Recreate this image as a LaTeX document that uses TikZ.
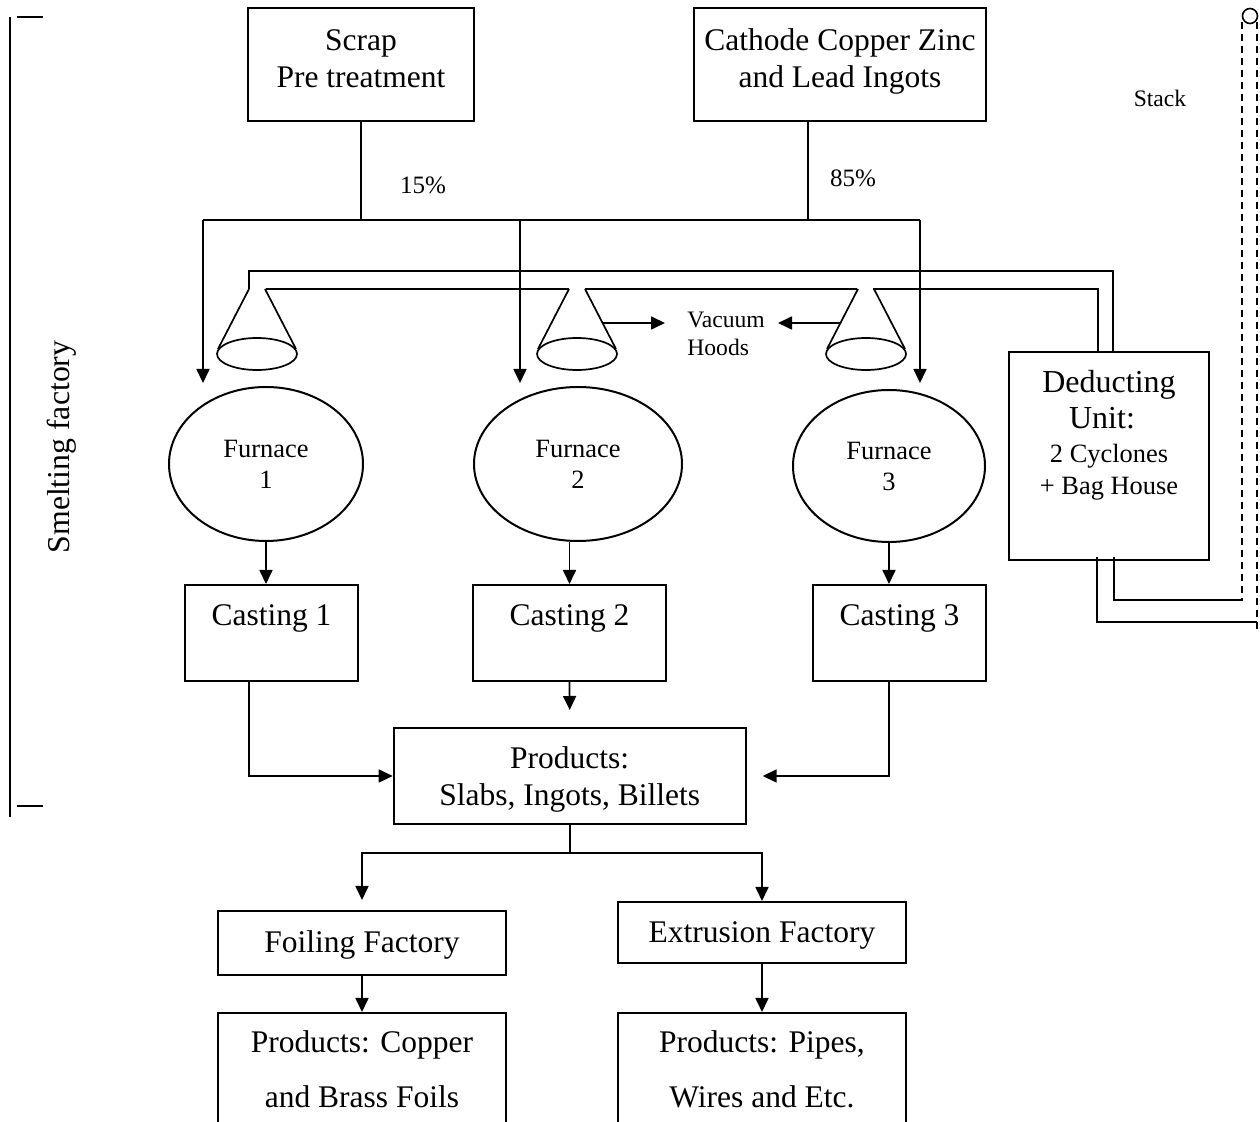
\documentclass[tikz,border=0pt]{standalone}
\usepackage{fontspec}
\setmainfont{Liberation Serif}
\usetikzlibrary{arrows.meta,shapes.geometric}

\begin{document}
\begin{tikzpicture}[x=0.5pt,y=-0.5pt,
    box/.style={draw,line width=1pt,inner sep=0pt,align=center,font=\fontsize{15.75}{18.5}\selectfont},
    furn/.style={draw,ellipse,line width=1pt,inner sep=0pt,align=center,font=\fontsize{13.2}{15.5}\selectfont},
    arr/.style={-{Triangle[length=7pt,width=6.5pt]},line width=0.85pt},
    pipe/.style={line width=0.85pt},
    stackline/.style={line width=0.6pt,dash pattern=on 3.5pt off 2.5pt}]
    \useasboundingbox (0,0) rectangle (1260,1122);

    % raw material
    \node[box,anchor=north,minimum width=113pt,text height=40pt,text depth=16.5pt] (scrap) at (361,7) {Scrap\\Pre treatment};
    \node[box,anchor=north,minimum width=146pt,text height=40pt,text depth=16.5pt] (cathode) at (840,7) {Cathode Copper Zinc\\and Lead Ingots};
    \node[font=\fontsize{12.5}{14}\selectfont] (p15) at (423,185) {15\%};
    \node[font=\fontsize{12.5}{14}\selectfont] (p85) at (853,178) {85\%};
    \node[font=\fontsize{11.8}{14}\selectfont] (stk) at (1160,98) {Stack};

    \coordinate (busL) at (203,220);
    \coordinate (busR) at (920,220);
    \coordinate (catx) at (808,220);
    \draw[pipe] (busL) -- (busR);
    \draw[pipe] (scrap.south) -- (scrap.south |- busL);
    \draw[pipe] (catx |- cathode.south) -- (catx);
    \coordinate (in1) at (203,383);
    \coordinate (in2) at (520,383);
    \coordinate (in3) at (920,383);
    \foreach \c in {in1,in2,in3}
        \draw[arr] (\c |- busL) -- (\c);

    % vacuum hoods and ducts
    \foreach \hx in {257,577,866} {
        \draw[pipe] (\hx-8,289) -- (\hx-39,349);
        \draw[pipe] (\hx+8,289) -- (\hx+39,349);
        \draw[pipe] (\hx,354) ellipse (20pt and 8pt);
    }
    \node[box,anchor=north,minimum width=100pt,text height=71.25pt,text depth=32.75pt,font=\fontsize{16}{18}\selectfont] (deduct) at (1109,351) {Deducting\\Unit:\kern7pt\\[-1.25pt]{\fontsize{13.2}{16}\selectfont 2 Cyclones}\\[-2pt]{\fontsize{13.2}{16}\selectfont + Bag House}};
    \draw[pipe] (249,289) -- (249,271) -| ([xshift=2pt]deduct.north);
    \draw[pipe] (266,289) -- (569,289);
    \draw[pipe] (585,289) -- (857,289);
    \draw[pipe] (873,289) -| ([xshift=-5.5pt]deduct.north);

    \node[font=\fontsize{11.8}{14}\selectfont,align=left,anchor=west,inner sep=0pt] (vac) at (687,334) {Vacuum\\Hoods};
    \coordinate (vl) at (665,323);
    \coordinate (vr) at (778,323);
    \draw[arr] (602,323) -- (vl);
    \draw[arr] (840,323) -- (vr);

    % furnaces and casting
    \node[furn,minimum width=97pt,minimum height=77pt] (f1) at (266,464) {Furnace\\1};
    \node[furn,minimum width=104pt,minimum height=77pt] (f2) at (578,464) {Furnace\\2};
    \node[furn,minimum width=96pt,minimum height=76pt] (f3) at (889,466) {Furnace\\3};
    \node[box,anchor=north,minimum width=86.5pt,text height=20.5pt,text depth=27.5pt] (cast1) at (271.5,584) {Casting 1};
    \node[box,anchor=north,minimum width=96.5pt,text height=20.5pt,text depth=27.5pt] (cast2) at (569.5,584) {Casting 2};
    \node[box,anchor=north,minimum width=86.5pt,text height=20.5pt,text depth=27.5pt] (cast3) at (899.5,584) {Casting 3};
    \draw[arr] (f1.south) -- (f1.south |- cast1.north);
    \draw[arr] (cast2.north |- f2.south) -- (cast2.north);
    \draw[arr] (f3.south) -- (f3.south |- cast3.north);

    % products
    \node[box,anchor=north,minimum width=176pt,text height=39pt,text depth=9pt] (prod) at (569.7,727) {Products:\\Slabs, Ingots, Billets};
    \coordinate (c1x) at (249,0);
    \coordinate (c3x) at (889,0);
    \draw[arr] (cast2.south) -- ([yshift=8.5pt]prod.north);
    \draw[arr] (cast1.south -| c1x) |- (prod.west);
    \draw[arr] (cast3.south -| c3x) |- ([xshift=8pt]prod.east);

    \node[box,anchor=north,minimum width=144pt,text height=21pt,text depth=11pt] (foil) at (362,910) {Foiling Factory};
    \node[box,anchor=north,minimum width=144pt,text height=20.5pt,text depth=10pt] (extr) at (762,901) {Extrusion Factory};
    \coordinate (split) at (569.7,853);
    \draw[pipe] (prod.south) -- (split);
    \draw[arr] (split) -| ([yshift=5pt]foil.north);
    \draw[arr] (split) -| (extr.north);

    \node[box,anchor=north,minimum width=144pt,text height=47.5pt,text depth=16.5pt,font=\fontsize{15.75}{27.5}\selectfont] (foilprod) at (362,1012) {Products: Copper\\and Brass Foils};
    \node[box,anchor=north,minimum width=144pt,text height=47.5pt,text depth=16.5pt,font=\fontsize{15.75}{27.5}\selectfont] (extrprod) at (762,1012) {Products: Pipes,\\Wires and Etc.};
    \draw[arr] (foil.south) -- (foilprod.north);
    \draw[arr] (extr.south) -- (extrprod.north);

    % stack
    \node[circle,draw,line width=0.8pt,minimum size=7.5pt,inner sep=0pt] (top) at (1250,16) {};
    \coordinate (s1) at (1242,600);
    \coordinate (s2) at (1257,622);
    \draw[stackline] (s1 |- 0,22) -- ([yshift=-0.5pt]s1);
    \draw[stackline] (s2 |- 0,22) -- (1257,633);
    \draw[pipe] ([xshift=2.5pt,yshift=2pt]deduct.south) |- (s1);
    \draw[pipe] ([xshift=-6pt,yshift=2pt]deduct.south) |- (s2);

    % smelting bracket
    \draw[line width=1pt] (9.5,17) -- (9.5,817);
    \draw[line width=1pt] (17,17) -- (43,17);
    \draw[line width=1pt] (17,806) -- (43,806);
    \node[rotate=90,font=\fontsize{15.9}{18}\selectfont] (smelt) at (62,447) {Smelting factory};
\end{tikzpicture}
\end{document}
